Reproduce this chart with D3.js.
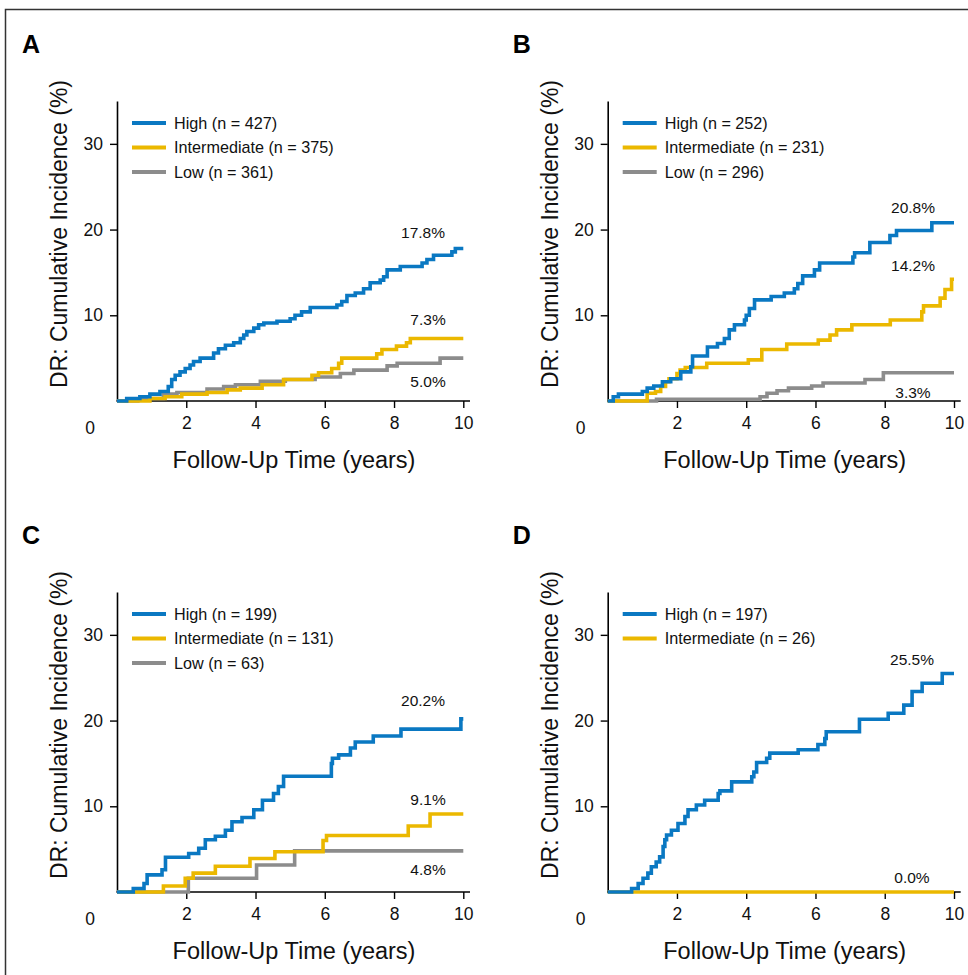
<!DOCTYPE html>
<html><head><meta charset="utf-8">
<script src="https://cdn.jsdelivr.net/npm/d3@7"></script>
<style>
body{margin:0;background:#fff;}
svg{display:block;font-family:"Liberation Sans",Arial,Helvetica,sans-serif;}
</style></head>
<body><svg id="c" width="968" height="975"></svg>
<script>
// ---- data ----
const panelLetters = ["A","B","C","D"];
const seriesNames = ["High","Intermediate","Low"];
const seriesColors = ["#0a78c2","#ebb800","#8c8c8c"];
const nA = [427,375,361], nB = [252,231,296], nC = [199,131,63], nD = [197,26];
const xTicks = [2,4,6,8,10];
const yTicks = [10,20,30];

const highA = [[0,0],[0.28,0.3],[0.66,0.5],[0.95,0.8],[1.24,1.1],[1.48,1.7],[1.58,2.5],[1.68,3.0],[1.82,3.4],[1.97,3.8],[2.11,4.2],[2.21,4.6],[2.40,5.0],[2.79,5.6],[2.93,6.1],[3.13,6.5],[3.37,6.8],[3.56,7.3],[3.66,7.7],[3.75,8.1],[3.95,8.5],[4.09,8.9],[4.24,9.1],[4.62,9.3],[5.0,9.6],[5.14,10.0],[5.33,10.4],[5.58,10.9],[6.35,11.2],[6.49,11.6],[6.64,12.3],[6.88,12.6],[7.12,13.1],[7.31,13.8],[7.6,14.1],[7.7,14.5],[7.8,15.3],[8.18,15.7],[8.81,16.1],[8.95,16.5],[9.14,17.0],[9.67,17.4],[9.77,17.8],[10,17.8]];
const interA = [[0,0],[0.95,0.3],[1.39,0.5],[1.87,0.8],[2.6,1.0],[3.18,1.3],[3.56,1.5],[4.19,1.9],[4.81,2.5],[5.63,3.0],[5.82,3.3],[6.2,3.8],[6.4,4.4],[6.49,5.0],[7.5,5.5],[7.65,6.0],[8.07,6.4],[8.36,6.8],[8.47,7.3],[10,7.3]];
const lowA = [[0,0],[0.6,0.2],[0.86,0.3],[1.34,0.8],[1.73,1.0],[2.6,1.4],[3.08,1.7],[3.42,1.9],[4.14,2.3],[4.86,2.5],[5.72,2.8],[6.45,3.2],[6.84,3.6],[7.8,4.1],[8.09,4.4],[9.33,5.0],[10,5.0]];

const highB = [[0,0],[0.16,0.5],[0.31,0.8],[1.0,1.1],[1.14,1.5],[1.33,1.75],[1.58,2.25],[1.82,2.6],[2.11,3.4],[2.4,4.0],[2.45,5.25],[2.88,6.3],[3.17,6.7],[3.37,7.3],[3.51,8.3],[3.66,8.9],[3.95,9.45],[4.0,10.0],[4.09,10.8],[4.24,11.8],[4.72,12.2],[5.1,12.6],[5.39,13.1],[5.49,13.7],[5.63,14.6],[5.97,15.3],[6.12,16.1],[7.08,16.8],[7.13,17.3],[7.57,18.5],[8.15,19.3],[8.34,19.9],[9.36,20.8],[10,20.8]];
const interB = [[0,0],[1.14,0.9],[1.38,1.1],[1.53,1.7],[1.67,2.25],[1.77,2.6],[2.0,3.2],[2.09,3.6],[2.24,3.9],[2.86,4.4],[4.06,4.8],[4.45,6.0],[5.17,6.65],[6.08,7.1],[6.42,7.7],[6.61,8.3],[7.05,8.9],[8.16,9.45],[9.07,10.4],[9.12,11.1],[9.6,12.0],[9.74,13.0],[9.93,14.2],[10,14.2]];
const lowB = [[0,0],[1.41,0.2],[4.4,0.5],[4.6,0.9],[4.89,1.2],[5.22,1.5],[5.89,1.75],[6.22,2.1],[7.43,2.5],[7.96,3.3],[10,3.3]];

const highC = [[0,0],[0.47,0.4],[0.78,1.0],[0.87,2.0],[1.3,2.6],[1.4,4.05],[2.07,4.5],[2.36,5.1],[2.55,6.1],[2.84,6.5],[3.13,7.2],[3.32,8.2],[3.61,8.7],[3.95,9.6],[4.2,10.7],[4.52,11.5],[4.66,12.3],[4.81,13.5],[6.19,15.0],[6.22,15.6],[6.4,16.0],[6.74,16.8],[6.88,17.5],[7.4,18.2],[8.2,19.0],[9.93,20.2],[10,20.2]];
const interC = [[0,0],[1.34,0.7],[1.97,1.6],[2.2,2.2],[2.84,3.0],[3.84,3.9],[4.56,4.7],[5.95,6.0],[6.05,6.6],[8.41,7.7],[9.04,9.1],[10,9.1]];
const lowC = [[0,0],[2.06,1.6],[4.03,3.15],[5.13,4.8],[10,4.8]];

const highD = [[0,0],[0.69,0.4],[0.88,1.0],[1.02,1.6],[1.16,2.2],[1.26,2.95],[1.4,3.5],[1.5,4.1],[1.6,5.3],[1.65,6.1],[1.7,6.65],[1.84,7.2],[2.03,8.0],[2.23,8.8],[2.32,9.6],[2.56,10.15],[2.8,10.7],[3.19,11.5],[3.24,11.8],[3.58,12.85],[4.16,13.45],[4.22,14.0],[4.3,15.1],[4.59,15.6],[4.68,16.2],[5.5,16.6],[6.07,17.2],[6.27,17.9],[6.31,18.7],[7.27,20.15],[8.1,20.85],[8.55,21.8],[8.79,23.4],[9.08,24.35],[9.66,25.5],[10,25.5]];
const interD = [[0,0],[10,0]];

const endLabelsA = ["17.8%","7.3%","5.0%"], endLabelsB = ["20.8%","14.2%","3.3%"],
      endLabelsC = ["20.2%","9.1%","4.8%"], endLabelsD = ["25.5%","0.0%"];

// ---- layout ----
const panels = [
  {letter:"A", ox:0,   oy:0,   n:nA, series:[highA,interA,lowA], ends:endLabelsA, endPos:[[423,238],[428,325],[428,387]]},
  {letter:"B", ox:490.7, oy:0,   n:nB, series:[highB,interB,lowB], ends:endLabelsB, endPos:[[913,213],[913,271],[913,398]]},
  {letter:"C", ox:0,   oy:491, n:nC, series:[highC,interC,lowC], ends:endLabelsC, endPos:[[423,706],[428,805],[428,875]]},
  {letter:"D", ox:490.7, oy:491, n:nD, series:[highD,interD], ends:endLabelsD, endPos:[[912,665],[912,883]]}
];

const svg = d3.select("#c");
svg.append("path").attr("d","M968,9.5H5.5V975").attr("fill","none").attr("stroke","#333").attr("stroke-width",1.5);

panels.forEach(p => {
  const g = svg.append("g").attr("transform",`translate(${p.ox},${p.oy})`);
  const x = d3.scaleLinear().domain([0,10]).range([117,463.3]);
  const y = d3.scaleLinear().domain([0,35]).range([401,101]);

  g.append("text").text(p.letter).attr("x",22).attr("y",53)
    .attr("font-size",25).attr("font-weight","bold").attr("fill","#000");

  // axes
  const xa = g.append("g").attr("transform","translate(0,401)")
    .call(d3.axisBottom(x).tickValues(xTicks).tickSize(7).tickSizeOuter(0).tickPadding(9));
  xa.select(".domain").attr("d","M116.5,0H470");
  const ya = g.append("g").attr("transform","translate(117,0)")
    .call(d3.axisLeft(y).tickValues(yTicks).tickSize(7).tickSizeOuter(0).tickPadding(7));
  [xa,ya].forEach(a=>{
    a.selectAll(".domain").attr("stroke","#000").attr("stroke-width",1.6);
    a.selectAll(".tick line").attr("stroke","#000").attr("stroke-width",1.4);
    a.selectAll(".tick text").attr("font-size",17.5).attr("fill","#111")
      .attr("font-family","'Liberation Sans',Arial,sans-serif");
  });
  g.append("text").text("0").attr("x",90).attr("y",434).attr("text-anchor","middle")
    .attr("font-size",17.5).attr("fill","#111");

  g.append("text").text("Follow-Up Time (years)").attr("x",294).attr("y",468)
    .attr("text-anchor","middle").attr("font-size",23.5).attr("fill","#111");
  g.append("text").text("DR: Cumulative Incidence (%)")
    .attr("transform","translate(67,234) rotate(-90)")
    .attr("text-anchor","middle").attr("font-size",23).attr("fill","#111");

  // curves
  const line = d3.line().x(d=>x(d[0])).y(d=>y(d[1])).curve(d3.curveStepAfter);
  const order = p.series.map((s,i)=>i).reverse();
  order.forEach(i=>{
    g.append("path").datum(p.series[i]).attr("d",line)
      .attr("fill","none").attr("stroke",seriesColors[i]).attr("stroke-width",3.6)
      .attr("stroke-linejoin","miter").attr("stroke-linecap","butt");
  });

  // legend
  p.n.forEach((n,i)=>{
    const ly = 123 + i*24.5;
    g.append("line").attr("x1",132).attr("x2",166).attr("y1",ly).attr("y2",ly)
      .attr("stroke",seriesColors[i]).attr("stroke-width",3.8);
    g.append("text").text(`${seriesNames[i]} (n = ${n})`).attr("x",174).attr("y",ly+5.5)
      .attr("font-size",16.2).attr("fill","#111");
  });

  // end labels
  p.ends.forEach((t,i)=>{
    g.append("text").text(t).attr("x",p.endPos[i][0]-p.ox).attr("y",p.endPos[i][1]-p.oy)
      .attr("text-anchor","middle").attr("font-size",15.5).attr("fill","#111");
  });
});
</script></body></html>
